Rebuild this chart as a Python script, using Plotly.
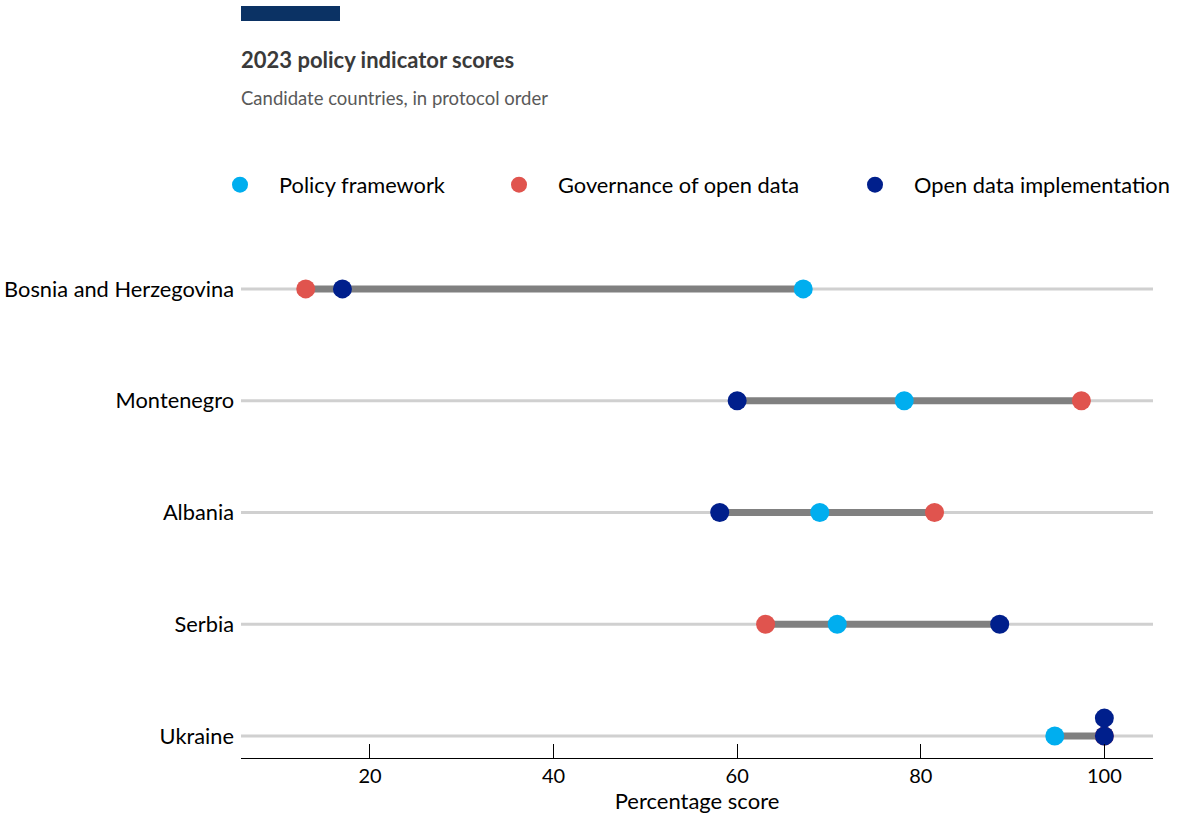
import plotly.graph_objects as go

countries = ["Bosnia and Herzegovina", "Montenegro", "Albania", "Serbia", "Ukraine"]
policy_framework = [67.2, 78.2, 69.0, 70.9, 94.6]
governance = [13.0, 97.5, 81.5, 63.1, 100.0]
implementation = [17.0, 60.0, 58.1, 88.6, 100.0]
# extra overlapping implementation point shown above Ukraine's row
extra_country = "Ukraine"
extra_value = 100.0

x_ticks = [20, 40, 60, 80, 100]

C_POL = "#00AEEF"
C_GOV = "#E0544E"
C_IMP = "#001F8C"
FONT = "Lato"
W, H = 1178, 814
PAD = "\u2003\u2009"  # wider gap between legend marker and its label

ypos = list(range(len(countries)))
fig = go.Figure()

for y in ypos:
    fig.add_trace(go.Scatter(x=[5.95, 105.3], y=[y, y], mode="lines",
                             line=dict(color="#D0D0D0", width=3),
                             showlegend=False, hoverinfo="skip"))
for i, y in enumerate(ypos):
    vals = [policy_framework[i], governance[i], implementation[i]]
    fig.add_trace(go.Scatter(x=[min(vals), max(vals)], y=[y, y], mode="lines",
                             line=dict(color="#808080", width=7),
                             showlegend=False, hoverinfo="skip"))

mk = dict(size=19)
fig.add_trace(go.Scatter(x=policy_framework, y=ypos, mode="markers", name=PAD + "Policy framework",
                         marker=dict(color=C_POL, **mk), legend="legend"))
fig.add_trace(go.Scatter(x=governance, y=ypos, mode="markers", name=PAD + "Governance of open data",
                         marker=dict(color=C_GOV, **mk), legend="legend2"))
fig.add_trace(go.Scatter(x=implementation, y=ypos, mode="markers", name=PAD + "Open data implementation",
                         marker=dict(color=C_IMP, **mk), legend="legend3"))
fig.add_trace(go.Scatter(x=[extra_value], y=[countries.index(extra_country) - 0.16], mode="markers",
                         marker=dict(color=C_IMP, **mk), showlegend=False))

def leg(px):
    return dict(xref="container", yref="container", x=(px - 20) / W, y=1 - 185 / H,
                xanchor="left", yanchor="middle", orientation="h",
                font=dict(family=FONT, size=21.8, color="#000000"),
                itemsizing="trace", bgcolor="rgba(0,0,0,0)", borderwidth=0)

fig.update_layout(
    width=W, height=H,
    margin=dict(l=241, r=25, t=233, b=56),
    paper_bgcolor="white", plot_bgcolor="white",
    font=dict(family=FONT, size=21, color="#000000"),
    xaxis=dict(range=[5.95, 105.3], tickvals=x_ticks, showgrid=False, zeroline=False,
               showline=True, linecolor="#000000", linewidth=1, automargin=False,
               ticks="inside", ticklen=14, tickcolor="#000000",
               tickfont=dict(size=20), title=dict(text="Percentage score", font=dict(size=22), standoff=5)),
    yaxis=dict(range=[4.197, -0.5], tickvals=ypos, ticktext=countries, showgrid=False,
               zeroline=False, showline=False, ticks="", tickfont=dict(size=21.8),
               ticklabelstandoff=6, automargin=False),
    legend=leg(240), legend2=leg(519), legend3=leg(875),
    showlegend=True,
)

fig.add_shape(type="rect", xref="paper", yref="paper", x0=0, x1=99/912, y0=(758-21)/525, y1=(758-6)/525,
              fillcolor="#0B3264", line=dict(width=0))
fig.add_annotation(text="<b>2023 policy indicator scores</b>", xref="paper", yref="paper",
                   x=-0.002, y=(758-59)/525, xanchor="left", yanchor="middle", showarrow=False,
                   font=dict(family=FONT, size=22, color="#3A3A3A"))
fig.add_annotation(text="Candidate countries, in protocol order", xref="paper", yref="paper",
                   x=-0.002, y=(758-98)/525, xanchor="left", yanchor="middle", showarrow=False,
                   font=dict(family=FONT, size=18.5, color="#595959"))

fig.write_html("out.html")
